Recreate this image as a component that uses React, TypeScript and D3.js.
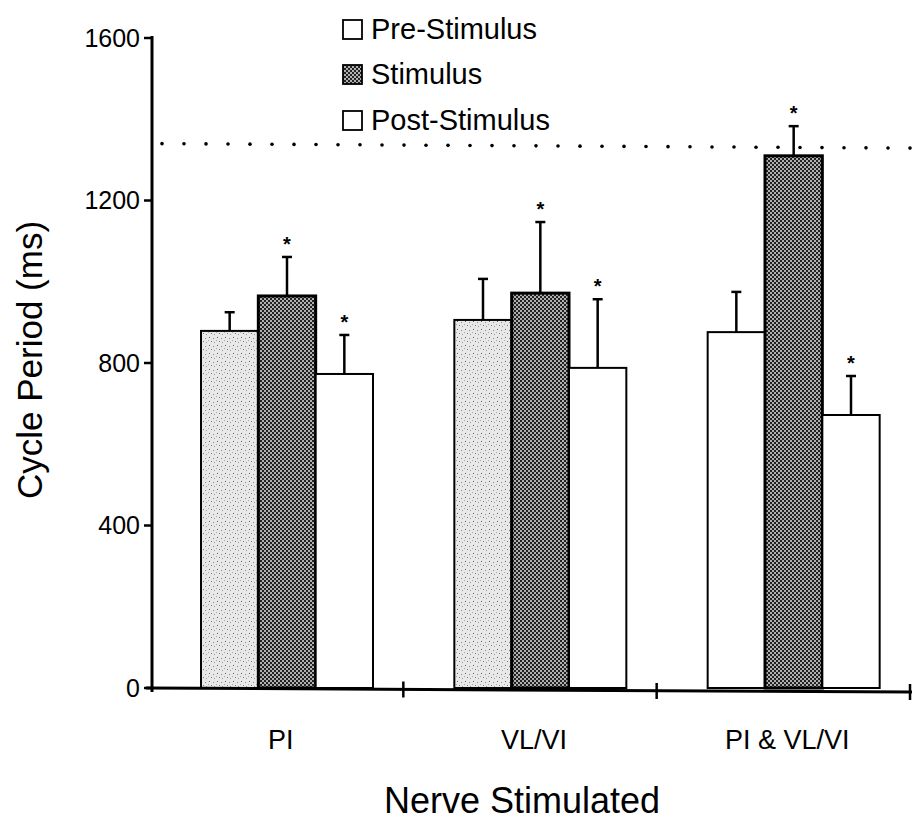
import React from "react";
import * as d3 from "d3";

const categories = ["PI", "VL/VI", "PI & VL/VI"];
const seriesNames = ["Pre-Stimulus", "Stimulus", "Post-Stimulus"];
const preValues = [879, 906, 876];
const stimValues = [965, 972, 1310];
const postValues = [773, 788, 672];
const preErr = [46, 101, 99];
const stimErr = [96, 175, 73];
const postErr = [96, 169, 96];
const stimSig = [true, true, true];
const postSig = [true, true, true];
const preSig = [false, false, false];
const referenceLine = 1340;
const yTicks = [0, 400, 800, 1200, 1600];

const W = 914;
const H = 825;

export default function App() {
  const y = d3.scaleLinear().domain([0, 1600]).range([688, 38]);
  const x0 = d3.scaleBand<string>().domain(categories).range([150, 910]).padding(0);
  const x1 = d3.scaleBand<string>().domain(seriesNames).range([0, 172]).padding(0);
  const groupOffset = 51;

  const values = [preValues, stimValues, postValues];
  const errs = [preErr, stimErr, postErr];
  const sigs = [preSig, stimSig, postSig];
  const fills = ["url(#stipple)", "url(#checker)", "#ffffff"];
  const fillsLast = ["#ffffff", "url(#checker)", "#ffffff"];

  const font = "'Liberation Sans', Arial, Helvetica, sans-serif";

  const bars: any[] = [];
  categories.forEach((c, ci) => {
    seriesNames.forEach((s, si) => {
      const v = values[si][ci];
      const e = errs[si][ci];
      const bx = (x0(c) as number) + groupOffset + (x1(s) as number);
      const bw = x1.bandwidth();
      const cx = bx + bw / 2;
      const top = y(v);
      const errTop = y(v + e);
      const fill = ci === 2 ? fillsLast[si] : fills[si];
      bars.push(
        <g key={c + s}>
          <line x1={cx} x2={cx} y1={top} y2={errTop} stroke="#000" strokeWidth={2.5} />
          <line x1={cx - 5} x2={cx + 5} y1={errTop} y2={errTop} stroke="#000" strokeWidth={2.5} />
          <rect
            x={bx}
            y={top}
            width={bw}
            height={y(0) - top}
            fill={fill}
            stroke="#000"
            strokeWidth={si === 1 ? 3 : 2}
          />
          {sigs[si][ci] && (
            <text
              x={cx}
              y={errTop - 6}
              textAnchor="middle"
              fontFamily={font}
              fontWeight="bold"
              fontSize={20}
            >
              *
            </text>
          )}
        </g>
      );
    });
  });

  const dots = d3.range(162, 912, 22);

  return (
    <svg
      width={W}
      height={H}
      style={{ position: "absolute", left: 0, top: 0, background: "#fff" }}
      fontFamily={font}
    >
      <defs>
        <pattern id="stipple" width="8" height="8" patternUnits="userSpaceOnUse">
          <rect width="8" height="8" fill="#e8e8e8" />
          <rect x="1" y="1" width="1" height="1" fill="#666" />
          <rect x="5" y="2" width="1" height="1" fill="#888" />
          <rect x="3" y="5" width="1" height="1" fill="#777" />
          <rect x="6" y="6" width="1" height="1" fill="#999" />
          <rect x="0" y="4" width="1" height="1" fill="#aaa" />
        </pattern>
        <pattern id="checker" width="4" height="4" patternUnits="userSpaceOnUse">
          <rect width="4" height="4" fill="#b0b0b0" />
          <rect x="0" y="0" width="2" height="2" fill="#222" />
          <rect x="2" y="2" width="2" height="2" fill="#222" />
        </pattern>
      </defs>

      {/* reference dotted line */}
      {dots.map((dx, i) => (
        <circle key={i} cx={dx} cy={y(referenceLine) + (dx - 162) * 0.006} r={1.8} fill="#000" />
      ))}

      {bars}

      {/* y axis */}
      <line x1={152} x2={152} y1={y(1600) - 2} y2={y(0) + 4} stroke="#000" strokeWidth={3} />
      {yTicks.map((t) => (
        <g key={t}>
          <line x1={144} x2={152} y1={y(t)} y2={y(t)} stroke="#000" strokeWidth={2.5} />
          <text x={140} y={y(t)} dy="0.35em" textAnchor="end" fontSize={25}>
            {t}
          </text>
        </g>
      ))}

      {/* x axis */}
      <line x1={146} x2={912} y1={y(0)} y2={y(0) + 4} stroke="#000" strokeWidth={3} />
      {categories.map((c, i) =>
        i === 0 ? null : (
          <line
            key={"t" + i}
            x1={x0(c) as number}
            x2={x0(c) as number}
            y1={y(0) - 8 + i * 1.5}
            y2={y(0) + 8 + i * 1.5}
            stroke="#000"
            strokeWidth={2.5}
          />
        )
      )}
      <line x1={910} x2={910} y1={y(0) - 4} y2={y(0) + 12} stroke="#000" strokeWidth={2.5} />
      {categories.map((c) => (
        <text
          key={"l" + c}
          x={(x0(c) as number) + x0.bandwidth() / 2 + 4}
          y={749}
          textAnchor="middle"
          fontSize={27}
        >
          {c}
        </text>
      ))}

      {/* axis titles */}
      <text
        transform={`translate(42, ${360}) rotate(-90)`}
        textAnchor="middle"
        fontSize={35}
      >
        Cycle Period (ms)
      </text>
      <text x={522} y={813} textAnchor="middle" fontSize={36}>
        Nerve Stimulated
      </text>

      {/* legend */}
      {seriesNames.map((s, i) => {
        const ly = [29, 74, 120][i];
        return (
          <g key={"lg" + s}>
            <rect
              x={343}
              y={ly - 9}
              width={19}
              height={19}
              fill={i === 1 ? "url(#checker)" : "#fff"}
              stroke="#000"
              strokeWidth={1.8}
            />
            <text x={371} y={ly} dy="0.35em" fontSize={29}>
              {s}
            </text>
          </g>
        );
      })}
    </svg>
  );
}
